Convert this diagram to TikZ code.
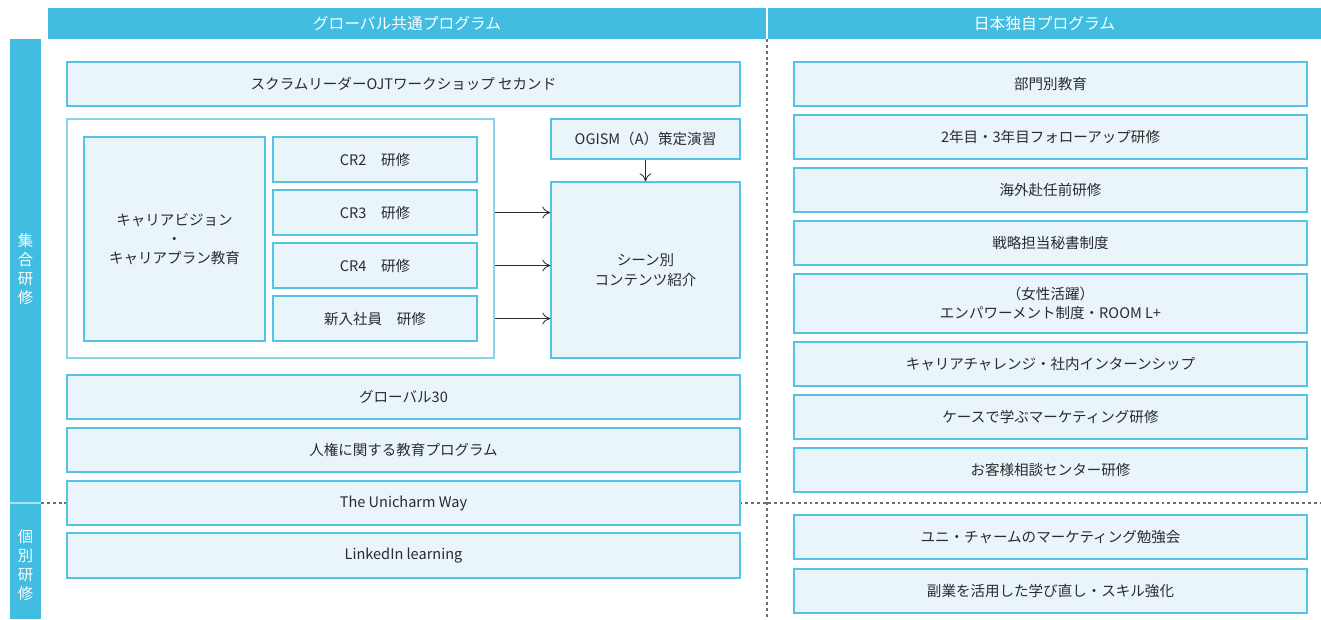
\documentclass[tikz,border=0pt]{standalone}
\usepackage{fontspec}
\setmainfont{Noto Sans CJK JP}
\usetikzlibrary{fit,arrows.meta}
\definecolor{hdr}{HTML}{40BDE0}
\definecolor{boxfill}{HTML}{E9F5FB}
\definecolor{boxline}{HTML}{55C3E4}
\definecolor{txt}{HTML}{2B2B2B}
\definecolor{dotc}{HTML}{6E6E6E}
\tikzset{
  box/.style={draw=boxline, line width=0.9pt, fill=boxfill, inner sep=0pt},
  lbl/.style={align=center, text=txt, inner sep=0pt, font=\fontsize{10.9}{14.5}\selectfont},
  frame/.style={draw=boxline!70, line width=0.9pt, fill=white, inner sep=0pt},
  hdrbox/.style={fill=hdr, draw=none, inner sep=0pt},
  hdrtext/.style={text=white, inner sep=0pt, font=\fontsize{11.8}{14}\selectfont},
  sidetext/.style={text=white, align=center, inner sep=0pt, font=\fontsize{11.5}{14.3}\selectfont},
  conn/.style={-{To[length=6pt,width=9pt]}, draw=txt, line width=0.6pt},
  sep/.style={draw=dotc, line width=1.1pt, dash pattern=on 2.2pt off 2.2pt}
}
\newcommand{\bx}[4]{\node[box, fit={#2}] (#1) {}; \node[lbl] (#1-t) at (#1.center) {#3};}
\begin{document}
\begin{tikzpicture}[x=0.75pt,y=-0.75pt]
\useasboundingbox (0,0) rectangle (1321,619);
% headers
\node[hdrbox, fit={(48,8)(766,39)}] (hl) {};
\node[hdrtext] (hlt) at (hl.center) {グローバル共通プログラム};
\node[hdrbox, fit={(768,8)(1321,39)}] (hr) {};
\node[hdrtext] (hrt) at (hr.center) {日本独自プログラム};
% sidebar
\node[fill=hdr, inner sep=0pt, fit={(10,39)(41,619)}] (side) {};
\draw[draw=white!55!hdr, line width=1.5pt] (10,503) -- (41,503);
\node[sidetext] (s1) at (25.5,269) {集\\合\\研\\修};
\node[sidetext] (s2) at (25.5,565) {個\\別\\研\\修};
% dotted separators
\coordinate (vt) at (767,39);
\coordinate (vb) at (767,619);
\coordinate (hlft) at (41,503);
\coordinate (hrgt) at (1321,503);
\draw[sep] (vt) -- (vb);
\draw[sep] (hlft) -- (hrgt);
% left column
\bx{scrum}{(67,62)(740,106)}{スクラムリーダーOJTワークショップ セカンド}{}
\node[frame, fit={(67,119)(494,358)}] (outer) {};
\bx{cv}{(84,137)(265,341)}{キャリアビジョン\\・\\キャリアプラン教育}{}
\bx{cr2}{(273,137)(477,182)}{CR2\quad 研修}{}
\bx{cr3}{(273,190)(477,235)}{CR3\quad 研修}{}
\bx{cr4}{(273,243)(477,288)}{CR4\quad 研修}{}
\bx{new}{(273,296)(477,341)}{新入社員\quad 研修}{}
\bx{ogism}{(551,119)(740,159)}{OGISM（A）策定演習}{}
\bx{scene}{(551,182)(740,358)}{シーン別\\コンテンツ紹介}{}
\bx{g30}{(67,375)(740,419)}{グローバル30}{}
\bx{jinken}{(67,428)(740,472)}{人権に関する教育プログラム}{}
\bx{way}{(67,481)(740,525)}{The Unicharm Way}{}
\bx{li}{(67,533)(740,578)}{LinkedIn learning}{}
% arrows
\draw[conn] (outer.east |- cr3.east) -- (scene.west |- cr3.east);
\draw[conn] (outer.east |- cr4.east) -- (scene.west |- cr4.east);
\draw[conn] (outer.east |- new.east) -- (scene.west |- new.east);
\draw[conn] (ogism.south) -- (scene.north);
% right column
\bx{r1}{(794,62)(1307,106)}{部門別教育}{}
\bx{r2}{(794,115)(1307,159)}{2年目・3年目フォローアップ研修}{}
\bx{r3}{(794,168)(1307,212)}{海外赴任前研修}{}
\bx{r4}{(794,221)(1307,265)}{戦略担当秘書制度}{}
\bx{r5}{(794,274)(1307,333)}{（女性活躍）\\エンパワーメント制度・ROOM L+}{}
\bx{r6}{(794,342)(1307,386)}{キャリアチャレンジ・社内インターンシップ}{}
\bx{r7}{(794,395)(1307,439)}{ケースで学ぶマーケティング研修}{}
\bx{r8}{(794,448)(1307,492)}{お客様相談センター研修}{}
\bx{r9}{(794,515)(1307,559)}{ユニ・チャームのマーケティング勉強会}{}
\bx{r10}{(794,569)(1307,613)}{副業を活用した学び直し・スキル強化}{}
\end{tikzpicture}
\end{document}
